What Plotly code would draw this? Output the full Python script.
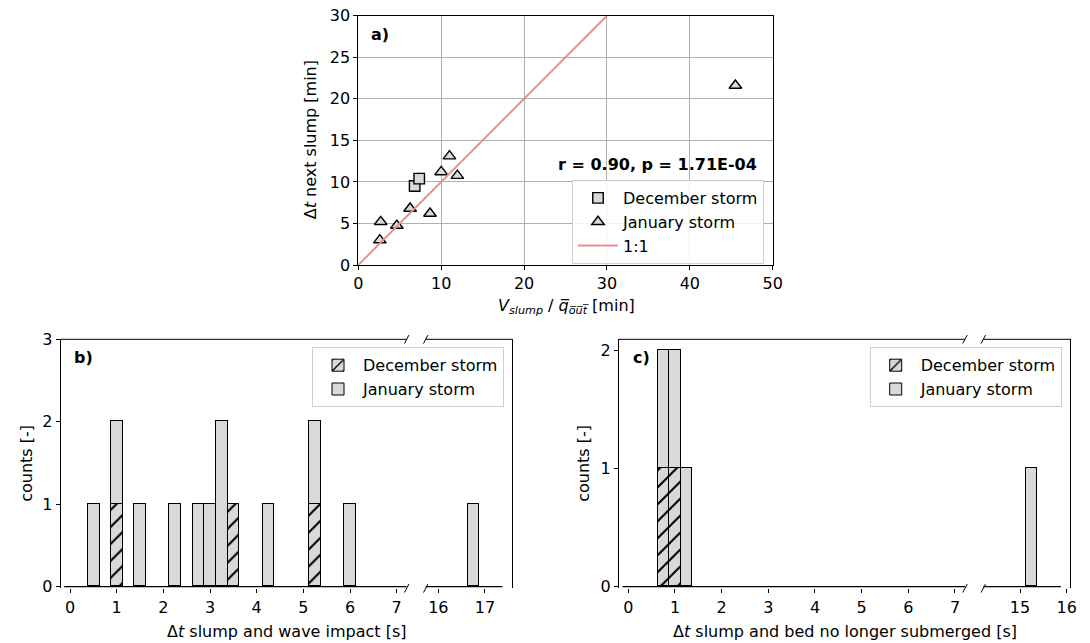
import plotly.graph_objects as go

# ---------------- data ----------------
# (a) slump volume over mean outflow vs. time until next slump [min]
dec_vq = [6.8, 7.35]
dec_dt_next = [9.5, 10.4]
jan_vq = [2.6, 2.7, 4.65, 6.25, 8.65, 10.0, 11.0, 11.95, 45.5]
jan_dt_next = [3.0, 5.2, 4.75, 6.8, 6.2, 11.2, 13.1, 10.75, 21.6]
one_to_one = [0, 30]
stats_text = "r = 0.90, p = 1.71E-04"

# histogram bin width [s]
bin_width = 0.25

# (b) time between slump and wave impact [s]
b_dec_centers = [1.0, 3.5, 5.25]
b_dec_counts = [1, 1, 1]
b_jan_centers = [0.5, 1.0, 1.5, 2.25, 2.75, 3.0, 3.25, 4.25, 5.25, 6.0, 16.75]
b_jan_counts = [1, 1, 1, 1, 1, 1, 2, 1, 1, 1, 1]
b_bin_range = [-0.125, 17.375]

# (c) time between slump and bed no longer submerged [s]
c_dec_centers = [0.75, 1.0]
c_dec_counts = [1, 1]
c_jan_centers = [0.75, 1.0, 1.25, 15.25]
c_jan_counts = [1, 1, 1, 1]
c_bin_range = [-0.125, 15.875]

# ---------------- style / layout ----------------
W, H = 1090, 643
FONT = "DejaVu Sans"
FS = 16
GREY = "#d9d9d9"
LINE_RED = "#e8908c"
BREAK_AT = 10  # values above this go to the right-hand part of a broken axis


def px(x):
    return x / W


def py(y):
    return 1 - y / H


# plot boxes in pixels
A_X, A_Y = (358.3, 772.7), (15.7, 265.0)
HIST_Y = (339.3, 588.3)
B_L, B_R = (60.7, 406.7), (425.7, 512.3)
C_L, C_R = (619.0, 965.0), (983.3, 1070.0)

fig = go.Figure()

# ---------------- panel a ----------------
fig.add_trace(go.Scatter(
    x=dec_vq, y=dec_dt_next, mode="markers", name="December storm",
    marker=dict(symbol="square", size=10.5, color=GREY,
                line=dict(color="black", width=1.4)),
    xaxis="x", yaxis="y", legend="legend"))
fig.add_trace(go.Scatter(
    x=jan_vq, y=jan_dt_next, mode="markers", name="January storm",
    marker=dict(symbol="triangle-up", size=11, color=GREY,
                line=dict(color="black", width=1.4)),
    xaxis="x", yaxis="y", legend="legend"))
fig.add_trace(go.Scatter(
    x=one_to_one, y=one_to_one, mode="lines", name="1:1",
    line=dict(color=LINE_RED, width=2),
    xaxis="x", yaxis="y", legend="legend"))


# ---------------- histograms ----------------
def split(centers, counts, right):
    pairs = [(c, n) for c, n in zip(centers, counts) if (c > BREAK_AT) == right]
    return [p[0] for p in pairs], [p[1] for p in pairs]


hatch = dict(shape="/", fgcolor="black", bgcolor=GREY, fgopacity=1,
             size=12, solidity=0.17)
BAR_EDGE = dict(color="black", width=1)


def add_hist(dec_c, dec_n, jan_c, jan_n, rng, axes, legend):
    for i, (xa, ya) in enumerate(axes):
        right = i == 1
        dx, dn = split(dec_c, dec_n, right)
        jx, jn = split(jan_c, jan_n, right)
        if dx or i == 0:
            fig.add_trace(go.Bar(
                x=dx, y=dn, width=bin_width, name="December storm",
                marker=dict(color=GREY, line=BAR_EDGE, pattern=hatch),
                xaxis=xa, yaxis=ya, legend=legend, legendgroup=legend + "dec",
                showlegend=(i == 0)))
        fig.add_trace(go.Bar(
            x=jx, y=jn, width=bin_width, name="January storm",
            marker=dict(color=GREY, line=BAR_EDGE),
            xaxis=xa, yaxis=ya, legend=legend, legendgroup=legend + "jan",
            showlegend=(i == 0)))
        # empty bins drawn as a flat outline along zero
        fig.add_trace(go.Scatter(
            x=rng, y=[0, 0], mode="lines", line=dict(color="black", width=1.2),
            xaxis=xa, yaxis=ya, showlegend=False, hoverinfo="skip"))


add_hist(b_dec_centers, b_dec_counts, b_jan_centers, b_jan_counts,
         b_bin_range, [("x2", "y2"), ("x3", "y3")], "legend2")
add_hist(c_dec_centers, c_dec_counts, c_jan_centers, c_jan_counts,
         c_bin_range, [("x4", "y4"), ("x5", "y5")], "legend3")

# ---------------- axes ----------------
tickfont = dict(family=FONT, size=FS, color="black")
common = dict(ticks="outside", ticklen=4, tickwidth=1, tickcolor="black",
              tickfont=tickfont, zeroline=False, showgrid=False,
              automargin=False)
hidden_side = dict(side="right", showline=True, linecolor="black", linewidth=1,
                   showticklabels=False, ticks="", zeroline=False,
                   showgrid=False, automargin=False)

layout_axes = dict(
    xaxis=dict(domain=[px(A_X[0]), px(A_X[1])], anchor="y", range=[0, 50],
               tickvals=[0, 10, 20, 30, 40, 50], showline=True, mirror=True,
               linecolor="black", linewidth=1, **{**common, "showgrid": True},
               gridcolor="#b0b0b0", gridwidth=1),
    yaxis=dict(domain=[py(A_Y[1]), py(A_Y[0])], anchor="x", range=[0, 30],
               tickvals=[0, 5, 10, 15, 20, 25, 30], showline=True, mirror=True,
               linecolor="black", linewidth=1, **{**common, "showgrid": True},
               gridcolor="#b0b0b0", gridwidth=1),
    # panel b, left and right parts of broken x axis
    xaxis2=dict(domain=[px(B_L[0]), px(B_L[1])], anchor="y2",
                range=[-0.2, 7.215], tickvals=list(range(8)), **common),
    yaxis2=dict(domain=[py(HIST_Y[1]), py(HIST_Y[0])], anchor="x2",
                range=[-0.02, 3], tickvals=[0, 1, 2, 3], showline=True,
                linecolor="black", linewidth=1, **common),
    xaxis3=dict(domain=[px(B_R[0]), px(B_R[1])], anchor="y3",
                range=[15.73, 17.585], tickvals=[16, 17], **common),
    yaxis3=dict(domain=[py(HIST_Y[1]), py(HIST_Y[0])], anchor="x3",
                range=[-0.02, 3], **hidden_side),
    # panel c
    xaxis4=dict(domain=[px(C_L[0]), px(C_L[1])], anchor="y4",
                range=[-0.2, 7.215], tickvals=list(range(8)), **common),
    yaxis4=dict(domain=[py(HIST_Y[1]), py(HIST_Y[0])], anchor="x4",
                range=[-0.014, 2.096], tickvals=[0, 1, 2], showline=True,
                linecolor="black", linewidth=1, **common),
    xaxis5=dict(domain=[px(C_R[0]), px(C_R[1])], anchor="y5",
                range=[14.214, 16.071], tickvals=[15, 16], **common),
    yaxis5=dict(domain=[py(HIST_Y[1]), py(HIST_Y[0])], anchor="x5",
                range=[-0.014, 2.096], **hidden_side),
)

# ---------------- spines and break marks ----------------
shapes = []
for xa, ya in [("x2", "y2"), ("x3", "y3"), ("x4", "y4"), ("x5", "y5")]:
    shapes.append(dict(type="line", xref=f"{xa} domain", yref=f"{ya} domain",
                       x0=0, x1=1, y0=1, y1=1,
                       line=dict(color="black", width=1)))
for xb in [B_L[1], B_R[0], C_L[1], C_R[0]]:
    for yb in HIST_Y:
        shapes.append(dict(type="line", xref="paper", yref="paper",
                           x0=px(xb - 2.2), y0=py(yb + 4.2),
                           x1=px(xb + 2.2), y1=py(yb - 4.2),
                           line=dict(color="black", width=1)))

# ---------------- text ----------------
txt = dict(family=FONT, size=FS, color="black")
annotations = [
    dict(text="<b>a)</b>", xref="x domain", yref="y domain", x=0.026, y=0.925,
         xanchor="left", yanchor="middle", showarrow=False, font=txt),
    dict(text=f"<b>{stats_text}</b>", xref="x domain", yref="y domain",
         x=0.968, y=0.405, xanchor="right", yanchor="middle",
         showarrow=False, font=txt),
    dict(text="<b>b)</b>", xref="x2 domain", yref="y2 domain", x=0.034,
         y=0.925, xanchor="left", yanchor="middle", showarrow=False, font=txt),
    dict(text="<b>c)</b>", xref="x4 domain", yref="y4 domain", x=0.034,
         y=0.925, xanchor="left", yanchor="middle", showarrow=False, font=txt),
    # axis titles
    dict(text="Δ<i>t</i> next slump [min]", xref="paper", yref="paper",
         x=px(310), y=py(140.3), textangle=-90, showarrow=False,
         xanchor="center", yanchor="middle", font=txt),
    dict(text="<i>V<sub>slump</sub></i> / <i>q̅<sub>o̅u̅t̅</sub></i> [min]",
         xref="paper", yref="paper", x=px(566), y=py(306.5),
         showarrow=False, xanchor="center", yanchor="middle", font=txt),
    dict(text="counts [-]", xref="paper", yref="paper", x=px(27),
         y=py(463.8), textangle=-90, showarrow=False, xanchor="center",
         yanchor="middle", font=txt),
    dict(text="counts [-]", xref="paper", yref="paper", x=px(584),
         y=py(463.8), textangle=-90, showarrow=False, xanchor="center",
         yanchor="middle", font=txt),
    dict(text="Δ<i>t</i> slump and wave impact [s]", xref="paper",
         yref="paper", x=px(286.5), y=py(631), showarrow=False,
         xanchor="center", yanchor="middle", font=txt),
    dict(text="Δ<i>t</i> slump and bed no longer submerged [s]",
         xref="paper", yref="paper", x=px(844.5), y=py(631),
         showarrow=False, xanchor="center", yanchor="middle", font=txt),
]

legend_style = dict(bgcolor="rgba(255,255,255,0.85)", bordercolor="#d0d0d0",
                    borderwidth=1, font=txt, traceorder="normal",
                    itemwidth=40, xanchor="right", yanchor="top")

fig.update_layout(
    width=W, height=H, margin=dict(l=0, r=0, t=0, b=0, autoexpand=False),
    paper_bgcolor="white", plot_bgcolor="white",
    font=dict(family=FONT, size=FS, color="black"),
    barmode="stack", bargap=0,
    legend=dict(x=px(764), y=py(180), **legend_style),
    legend2=dict(x=px(504), y=py(347.3), **legend_style),
    legend3=dict(x=px(1061.7), y=py(347.3), **legend_style),
    shapes=shapes, annotations=annotations,
    **layout_axes,
)

fig.write_html("out.html")
